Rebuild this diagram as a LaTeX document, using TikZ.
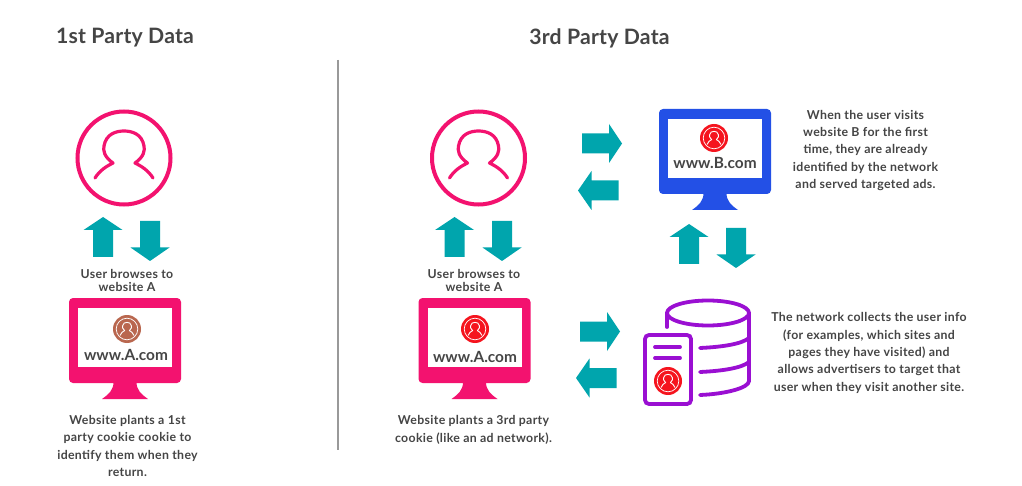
\documentclass[tikz,border=0pt]{standalone}
\usepackage{fontspec}
\setmainfont{Lato}
\newfontfamily\parafont[LetterSpace=2.7]{Lato}
\newfontfamily\headfont[LetterSpace=1]{Lato}
\definecolor{teal1}{HTML}{00A5AD}
\definecolor{pink1}{HTML}{F3126F}
\definecolor{blue1}{HTML}{2350E6}
\definecolor{purple1}{HTML}{9A0FD2}
\definecolor{red1}{HTML}{F5141E}
\definecolor{brown1}{HTML}{B9674F}
\definecolor{text1}{HTML}{454545}
\tikzset{
  heading/.style={font=\headfont\fontsize{21.2}{24}\selectfont\bfseries,text=text1,inner sep=0pt},
  para/.style={font=\parafont\fontsize{12.3}{17.4}\selectfont\bfseries,text=text1,align=center,inner sep=0pt},
  paratight/.style={font=\parafont\fontsize{12.3}{13.5}\selectfont\bfseries,text=text1,align=center,inner sep=0pt},
  site/.style={font=\fontsize{15.4}{18}\selectfont\bfseries,text=text1,inner sep=0pt},
  arrowfill/.style={fill=teal1,draw=none},
  dbline/.style={draw=purple1,line width=3.8pt,line cap=round,line join=round},
}
% big person outline: #1 x, #2 y
\newcommand{\bigperson}[2]{%
  \begin{scope}[shift={(#1,#2)}]
    \draw[pink1,line width=4pt] (0,0) circle (46.5);
    \draw[pink1,line width=3.2pt,line cap=round,line join=round]
      (-29,20) .. controls (-24,12) and (-17,8) .. (-11,5)
      .. controls (-20,-1) and (-21,-8) .. (-20,-12)
      .. controls (-18,-24) and (-8,-27) .. (0,-27)
      .. controls (8,-27) and (18,-24) .. (20,-12)
      .. controls (21,-8) and (20,-1) .. (11,5)
      .. controls (17,8) and (24,12) .. (29,20);
  \end{scope}}
% small badge: #1 x, #2 y, #3 colour
\newcommand{\badge}[3]{%
  \begin{scope}[shift={(#1,#2)}]
    \fill[#3] (0,0) circle (14);
    \draw[white,line width=0.7pt] (0,0) circle (10.8);
    \draw[white,line width=0.9pt,line join=round]
      (-7,6.5) .. controls (-6,3.5) and (-4,2.5) .. (-2.4,1.6)
      .. controls (-4.4,0) and (-4.8,-2) .. (-4.4,-3.2)
      .. controls (-4,-6) and (-2,-6.6) .. (0,-6.6)
      .. controls (2,-6.6) and (4,-6) .. (4.4,-3.2)
      .. controls (4.8,-2) and (4.4,0) .. (2.4,1.6)
      .. controls (4,2.5) and (6,3.5) .. (7,6.5);
  \end{scope}}
% monitor: #1 centre x, #2 top y, #3 colour
\newcommand{\monitor}[3]{%
  \begin{scope}[shift={(#1,#2)}]
    \fill[#3,rounded corners=4pt] (-56,0) rectangle (56,85);
    \fill[#3] (-11.5,84) -- (11.5,84) .. controls (11.5,92) and (16,96) .. (23,101)
      -- (-23,101) .. controls (-16,96) and (-11.5,92) .. (-11.5,84) -- cycle;
    \fill[white] (-47,10) rectangle (47,69);
  \end{scope}}
% arrows: #1 x of centre, #2 tip y
\newcommand{\uparr}[2]{\fill[arrowfill] (#1,#2) -- ++(19.5,13) -- ++(-9.5,0) -- ++(0,27) -- ++(-20,0) -- ++(0,-27) -- ++(-9.5,0) -- cycle;}
\newcommand{\downarr}[2]{\fill[arrowfill] (#1,#2) -- ++(19.5,-13.5) -- ++(-9.5,0) -- ++(0,-26.5) -- ++(-20,0) -- ++(0,26.5) -- ++(-9.5,0) -- cycle;}
\newcommand{\rightarr}[2]{\fill[arrowfill] (#1,#2) -- ++(-13,-19.5) -- ++(0,9.5) -- ++(-27,0) -- ++(0,20) -- ++(27,0) -- ++(0,9.5) -- cycle;}
\newcommand{\leftarr}[2]{\fill[arrowfill] (#1,#2) -- ++(13.5,-19.5) -- ++(0,9.5) -- ++(27,0) -- ++(0,20) -- ++(-27,0) -- ++(0,9.5) -- cycle;}
\begin{document}
\begin{tikzpicture}[x=1pt,y=-1pt]
\useasboundingbox[fill=white] (0,0) rectangle (1022,486);

\node[heading] (h1) at (125,38) {1st Party Data};
\node[heading] (h3) at (599.5,38) {3rd Party Data};
\draw[draw=black!40,line width=2pt] (338,60) -- (338,450);

% left column
\bigperson{124}{158}
\uparr{103}{217}
\downarr{150}{261}
\node[paratight] (ub1) at (127,280.5) {User browses to\\website A};
\monitor{125}{298}{pink1}
\badge{127}{329}{brown1}
\node[site] (wa1) at (126,355) {www.A.com};
\node[para] (wp1) at (127.5,446) {Website plants a 1st\\party cookie cookie to\\identify them when they\\return.};

% right column
\bigperson{478.5}{158}
\uparr{454.5}{217}
\downarr{502}{261}
\node[paratight] (ub2) at (474,280.5) {User browses to\\website A};
\monitor{474.5}{298}{pink1}
\badge{475}{329}{red1}
\node[site] (wa2) at (475,357) {www.A.com};
\node[para] (wp2) at (473.5,430) {Website plants a 3rd party\\cookie (like an ad network).};

\rightarr{622}{143.5}
\leftarr{578}{190.5}
\monitor{715}{109}{blue1}
\badge{714}{138}{red1}
\node[site] (wb) at (715,163) {www.B.com};
\uparr{689}{224}
\downarr{736}{268}
\node[para] (pb) at (865.5,150.5) {When the user visits\\website B for the first\\time, they are already\\identified by the network\\and served targeted ads.};

\rightarr{620}{331.5}
\leftarr{576}{378}
% database
\draw[dbline] (708,313) ellipse (41 and 12.5);
\draw[dbline] (667,313) -- (667,327);
\draw[dbline] (749,313) -- (749,381) .. controls (749,388) and (725,394) .. (700,395);
\draw[dbline] (700,348) .. controls (722,347) and (742,344) .. (749,338);
\draw[dbline] (700,372) .. controls (722,371) and (742,368) .. (749,362);
% card
\draw[draw=purple1,line width=3.8pt,rounded corners=4pt] (645,335) rectangle (691,404);
\draw[dbline] (655,347) -- (680,347);
\draw[dbline] (655,358) -- (680,358);
\badge{668}{381}{red1}
\node[para] (pn) at (869,353) {The network collects the user info\\(for examples, which sites and\\pages they have visited) and\\allows advertisers to target that\\user when they visit another site.};
\end{tikzpicture}
\end{document}
